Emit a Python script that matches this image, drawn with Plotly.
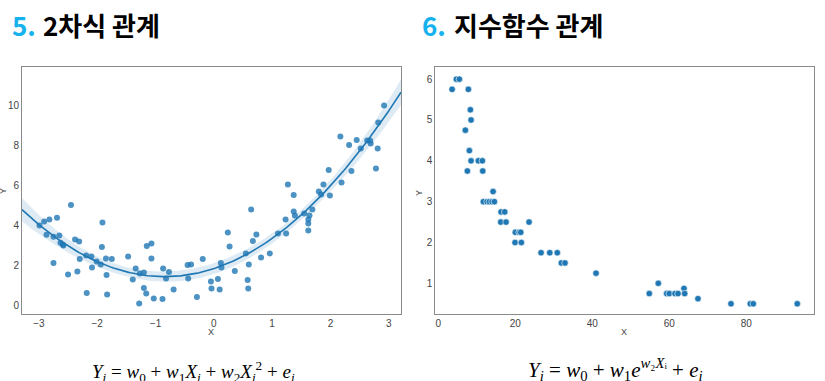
import numpy as np
import plotly.graph_objects as go

# ---------------- data ----------------
# Panel 5: quadratic relationship (scatter)
quad_x = [-2.99, -2.91, -2.82, -2.87, -2.75, -2.75, -2.69, -2.65, -2.63, -2.59,
          -2.58, -2.50, -2.45, -2.38, -2.34, -2.31, -2.30, -2.18, -2.19, -2.10,
          -2.09, -2.01, -1.94, -1.92, -1.91, -1.85, -1.84, -1.83, -1.75, -1.47,
          -1.39, -1.34, -1.28, -1.27, -1.20, -1.20, -1.16, -1.15, -1.07, -1.07,
          -1.03, -0.88, -0.87, -0.82, -0.77, -0.69, -0.45, -0.39, -0.44, -0.29,
          -0.19, -0.05, -0.04, 0.07, 0.10, 0.12, 0.13, 0.24, 0.27, 0.36,
          0.55, 0.58, 0.59, 0.60, 0.64, 0.67, 0.73, 0.81, 0.96, 1.10,
          1.23, 1.24, 1.27, 1.37, 1.37, 1.39, 1.55, 1.64, 1.62, 1.62,
          1.62, 1.69, 1.80, 1.84, 1.88, 1.97, 1.99, 2.17, 2.19, 2.32,
          2.36, 2.45, 2.52, 2.63, 2.68, 2.69, 2.78, 2.81, 2.82, 2.92]
quad_y = [3.98, 4.18, 4.28, 3.51, 2.10, 3.41, 4.36, 3.48, 3.11, 3.03,
          2.98, 1.53, 5.00, 3.27, 1.67, 3.17, 2.30, 0.60, 2.47, 2.42,
          1.87, 2.18, 2.03, 2.90, 4.12, 2.33, 1.50, 0.53, 2.30, 2.42,
          1.27, 1.82, 0.07, 1.57, 1.62, 0.85, 0.57, 2.95, 3.07, 2.32,
          0.33, 0.30, 1.83, 1.32, 1.65, 0.78, 2.00, 2.03, 1.32, 0.40,
          2.30, 1.17, 0.82, 1.30, 0.77, 2.10, 1.87, 3.63, 2.92, 1.70,
          2.58, 1.25, 0.82, 2.02, 4.77, 3.20, 3.52, 2.38, 2.58, 3.57,
          4.28, 3.57, 6.02, 5.50, 4.68, 4.47, 4.58, 4.47, 4.28, 4.08,
          3.73, 4.77, 5.68, 5.53, 6.02, 6.75, 5.47, 8.42, 6.12, 8.00,
          6.70, 8.25, 7.83, 8.23, 8.23, 8.08, 6.82, 7.83, 9.13, 9.98]

# Panel 6: exponential relationship (scatter)
exp_x = [3.56, 4.68, 5.45, 7.79, 8.31, 8.49, 7.01, 8.05, 8.49, 7.53,
         10.39, 11.43, 11.53, 14.21, 11.69, 12.65, 13.25, 13.95, 14.55, 16.29,
         17.24, 16.20, 17.58, 23.56, 20.00, 20.96, 21.40, 19.92, 21.56, 26.68,
         28.94, 30.90, 31.95, 32.90, 40.96, 54.80, 57.14, 59.32, 60.00, 61.48,
         62.26, 63.82, 64.00, 67.45, 76.03, 81.04, 81.82, 93.25]
exp_y = [5.75, 6.00, 6.00, 5.75, 5.25, 5.00, 4.75, 4.25, 4.00, 3.75,
         4.00, 4.00, 3.75, 3.25, 3.00, 3.00, 3.00, 3.00, 3.00, 2.75,
         2.75, 2.50, 2.50, 2.50, 2.25, 2.25, 2.25, 2.00, 2.00, 1.75,
         1.75, 1.75, 1.50, 1.50, 1.25, 0.75, 1.00, 0.75, 0.75, 0.75,
         0.75, 0.875, 0.75, 0.625, 0.50, 0.50, 0.50, 0.50]

quad_xticks = [-3, -2, -1, 0, 1, 2, 3]
quad_yticks = [0, 2, 4, 6, 8, 10]
exp_xticks = [0, 20, 40, 60, 80]
exp_yticks = [1, 2, 3, 4, 5, 6]

# ---------------- layout constants ----------------
W, H = 825, 381
QX_RANGE = [-3.29, 3.21]
QY_RANGE = [-0.45, 11.9]
EX_RANGE = [-0.8, 97.6]
EY_RANGE = [0.25, 6.29]

BLUE = "#1f77b4"
FRAME = "#8a8a8a"
TICKC = "#444444"

def px(x):
    return x / W

def py(y):
    return 1 - y / H

# ---------------- quadratic fit + 95% CI ----------------
xq = np.array(quad_x)
yq = np.array(quad_y)
Xd = np.vstack([np.ones_like(xq), xq, xq ** 2]).T
beta, *_ = np.linalg.lstsq(Xd, yq, rcond=None)
resid = yq - Xd @ beta
s2 = resid @ resid / (len(xq) - 3)
XtX_inv = np.linalg.inv(Xd.T @ Xd)
xg = np.linspace(QX_RANGE[0], QX_RANGE[1], 200)
Xg = np.vstack([np.ones_like(xg), xg, xg ** 2]).T
yg = Xg @ beta
se = np.sqrt(s2 * np.einsum("ij,jk,ik->i", Xg, XtX_inv, Xg))
lo = yg - 1.98 * se
hi = yg + 1.98 * se

fig = go.Figure()

# CI band
fig.add_trace(go.Scatter(x=np.concatenate([xg, xg[::-1]]), y=np.concatenate([hi, lo[::-1]]),
                         fill="toself", fillcolor="rgba(31,119,180,0.15)",
                         line=dict(width=0), hoverinfo="skip", showlegend=False,
                         xaxis="x", yaxis="y"))
# points
fig.add_trace(go.Scatter(x=quad_x, y=quad_y, mode="markers",
                         marker=dict(color=BLUE, size=6, opacity=0.8, line=dict(width=0)),
                         showlegend=False, xaxis="x", yaxis="y"))
# fit line
fig.add_trace(go.Scatter(x=xg, y=yg, mode="lines", line=dict(color=BLUE, width=1.6),
                         showlegend=False, xaxis="x", yaxis="y"))

# exponential scatter
fig.add_trace(go.Scatter(x=exp_x, y=exp_y, mode="markers",
                         marker=dict(color=BLUE, size=6.5, line=dict(width=0.6, color="white")),
                         showlegend=False, xaxis="x2", yaxis="y2"))

axis_common = dict(showline=True, linecolor=FRAME, linewidth=1, mirror=True,
                   showgrid=False, zeroline=False, ticks="",
                   tickfont=dict(family="Liberation Sans, Arial, sans-serif", size=10, color=TICKC))

fig.update_layout(
    width=W, height=H,
    margin=dict(l=0, r=0, t=0, b=0),
    paper_bgcolor="white", plot_bgcolor="white",
    xaxis=dict(domain=[px(22), px(401)], range=QX_RANGE, tickvals=quad_xticks,
               ticktext=["\u22123", "\u22122", "\u22121", "0", "1", "2", "3"],
               anchor="y", **axis_common),
    yaxis=dict(domain=[py(314), py(67)], range=QY_RANGE, tickvals=quad_yticks,
               anchor="x", **axis_common),
    xaxis2=dict(domain=[px(435.3), px(814)], range=EX_RANGE, tickvals=exp_xticks,
                anchor="y2", **axis_common),
    yaxis2=dict(domain=[py(314), py(67.3)], range=EY_RANGE, tickvals=exp_yticks,
                anchor="x2", **axis_common),
)

ann = []
title_font = dict(family="Noto Sans CJK KR", size=26, color="#000000")
cyan = "#16b2ee"
# titles
ann.append(dict(x=px(10), y=py(24), text="<b>5.</b>", font=dict(family="Noto Sans CJK KR", size=26, color=cyan),
                xanchor="left", yanchor="middle", showarrow=False, xref="paper", yref="paper"))
ann.append(dict(x=px(41), y=py(24), text="<b>2차식 관계</b>", font=title_font,
                xanchor="left", yanchor="middle", showarrow=False, xref="paper", yref="paper"))
ann.append(dict(x=px(420), y=py(24), text="<b>6.</b>", font=dict(family="Noto Sans CJK KR", size=26, color=cyan),
                xanchor="left", yanchor="middle", showarrow=False, xref="paper", yref="paper"))
ann.append(dict(x=px(452), y=py(24), text="<b>지수함수 관계</b>", font=title_font,
                xanchor="left", yanchor="middle", showarrow=False, xref="paper", yref="paper"))

lab_font = dict(family="Liberation Sans, Arial, sans-serif", size=9, color=TICKC)
ann.append(dict(x=px(211), y=py(332), text="X", font=lab_font, showarrow=False,
                xanchor="center", yanchor="middle", xref="paper", yref="paper"))
ann.append(dict(x=px(624), y=py(332), text="X", font=lab_font, showarrow=False,
                xanchor="center", yanchor="middle", xref="paper", yref="paper"))
ann.append(dict(x=px(3), y=py(191), text="Y", font=lab_font, showarrow=False, textangle=-90,
                xanchor="center", yanchor="middle", xref="paper", yref="paper"))
ann.append(dict(x=px(419), y=py(193), text="Y", font=lab_font, showarrow=False, textangle=-90,
                xanchor="center", yanchor="middle", xref="paper", yref="paper"))

f1 = ("<i>Y</i><sub><i>i</i></sub> = <i>w</i><sub>0</sub> + <i>w</i><sub>1</sub><i>X</i><sub><i>i</i></sub>"
      " + <i>w</i><sub>2</sub><i>X</i><sub><i>i</i></sub><sup>2</sup> + <i>e</i><sub><i>i</i></sub>")
f2 = ("<i>Y</i><sub><i>i</i></sub> = <i>w</i><sub>0</sub> + <i>w</i><sub>1</sub><i>e</i>"
      "<sup><i>w</i>\u2082<i>X</i>\u1d62</sup> + <i>e</i><sub><i>i</i></sub>")
ann.append(dict(x=px(193), y=py(371), text=f1,
                font=dict(family="Liberation Serif, DejaVu Serif, serif", size=19, color="#000000"),
                showarrow=False, xanchor="center", yanchor="middle", xref="paper", yref="paper"))
ann.append(dict(x=px(615), y=py(369), text=f2,
                font=dict(family="Liberation Serif, DejaVu Serif, serif", size=21, color="#000000"),
                showarrow=False, xanchor="center", yanchor="middle", xref="paper", yref="paper"))

fig.update_layout(annotations=ann)
fig.write_html("out.html", config={"displayModeBar": False},
               post_script="document.body.style.margin='0';document.body.style.overflow='hidden';")
